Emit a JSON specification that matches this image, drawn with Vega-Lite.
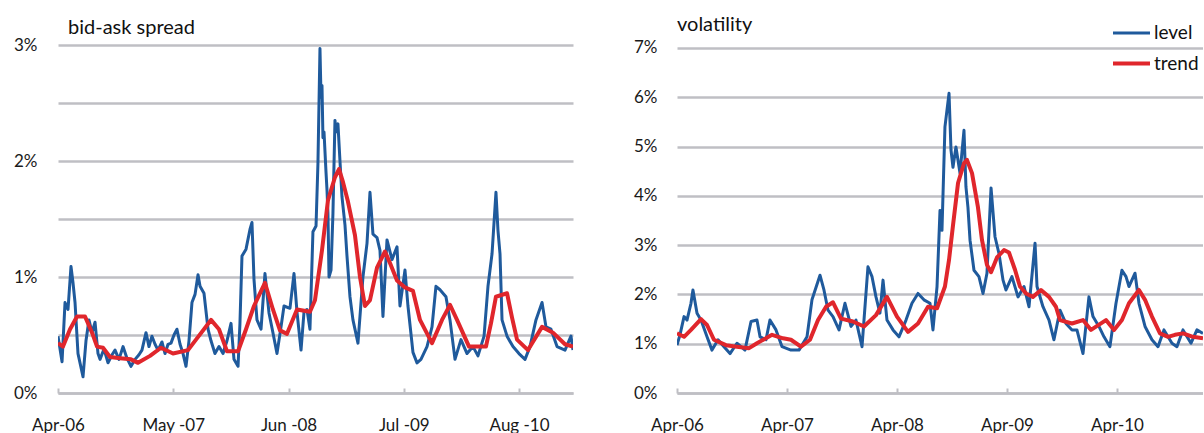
{
  "$schema": "https://vega.github.io/schema/vega-lite/v6.json",
  "background": "white",
  "padding": {"left": 13, "top": 13, "right": 0, "bottom": 0},
  "config": {
    "font": "Lato",
    "view": {"stroke": null},
    "concat": {"spacing": 60},
    "axis": {"labelFont": "Lato", "labelColor": "#1a1a1a", "title": null},
    "title": {"font": "Lato", "fontWeight": "normal", "color": "#111111", "fontSize": 20, "anchor": "start", "frame": "group"}
  },
  "datasets": {
    "spread": [
      {"year": 2006.250, "series": "level", "value": 0.49},
      {"year": 2006.288, "series": "level", "value": 0.27},
      {"year": 2006.316, "series": "level", "value": 0.78},
      {"year": 2006.344, "series": "level", "value": 0.72},
      {"year": 2006.372, "series": "level", "value": 1.09},
      {"year": 2006.391, "series": "level", "value": 0.95},
      {"year": 2006.410, "series": "level", "value": 0.78},
      {"year": 2006.438, "series": "level", "value": 0.34},
      {"year": 2006.485, "series": "level", "value": 0.14},
      {"year": 2006.513, "series": "level", "value": 0.45},
      {"year": 2006.541, "series": "level", "value": 0.63},
      {"year": 2006.570, "series": "level", "value": 0.52},
      {"year": 2006.598, "series": "level", "value": 0.61},
      {"year": 2006.626, "series": "level", "value": 0.34},
      {"year": 2006.645, "series": "level", "value": 0.29},
      {"year": 2006.682, "series": "level", "value": 0.38},
      {"year": 2006.720, "series": "level", "value": 0.26},
      {"year": 2006.758, "series": "level", "value": 0.33},
      {"year": 2006.786, "series": "level", "value": 0.37},
      {"year": 2006.823, "series": "level", "value": 0.29},
      {"year": 2006.861, "series": "level", "value": 0.40},
      {"year": 2006.898, "series": "level", "value": 0.30},
      {"year": 2006.936, "series": "level", "value": 0.23},
      {"year": 2006.974, "series": "level", "value": 0.29},
      {"year": 2007.011, "series": "level", "value": 0.33},
      {"year": 2007.039, "series": "level", "value": 0.37},
      {"year": 2007.077, "series": "level", "value": 0.52},
      {"year": 2007.105, "series": "level", "value": 0.40},
      {"year": 2007.133, "series": "level", "value": 0.49},
      {"year": 2007.162, "series": "level", "value": 0.42},
      {"year": 2007.190, "series": "level", "value": 0.37},
      {"year": 2007.227, "series": "level", "value": 0.44},
      {"year": 2007.256, "series": "level", "value": 0.34},
      {"year": 2007.284, "series": "level", "value": 0.42},
      {"year": 2007.312, "series": "level", "value": 0.43},
      {"year": 2007.340, "series": "level", "value": 0.50},
      {"year": 2007.368, "series": "level", "value": 0.55},
      {"year": 2007.397, "series": "level", "value": 0.42},
      {"year": 2007.425, "series": "level", "value": 0.34},
      {"year": 2007.453, "series": "level", "value": 0.23},
      {"year": 2007.481, "series": "level", "value": 0.45},
      {"year": 2007.509, "series": "level", "value": 0.78},
      {"year": 2007.538, "series": "level", "value": 0.85},
      {"year": 2007.566, "series": "level", "value": 1.02},
      {"year": 2007.585, "series": "level", "value": 0.92},
      {"year": 2007.622, "series": "level", "value": 0.86},
      {"year": 2007.660, "series": "level", "value": 0.55},
      {"year": 2007.688, "series": "level", "value": 0.45},
      {"year": 2007.725, "series": "level", "value": 0.34},
      {"year": 2007.763, "series": "level", "value": 0.40},
      {"year": 2007.801, "series": "level", "value": 0.34},
      {"year": 2007.838, "series": "level", "value": 0.45},
      {"year": 2007.876, "series": "level", "value": 0.60},
      {"year": 2007.904, "series": "level", "value": 0.29},
      {"year": 2007.942, "series": "level", "value": 0.23},
      {"year": 2007.960, "series": "level", "value": 0.60},
      {"year": 2007.979, "series": "level", "value": 1.18},
      {"year": 2008.017, "series": "level", "value": 1.24},
      {"year": 2008.054, "series": "level", "value": 1.41},
      {"year": 2008.073, "series": "level", "value": 1.47},
      {"year": 2008.092, "series": "level", "value": 0.98},
      {"year": 2008.120, "series": "level", "value": 0.63},
      {"year": 2008.158, "series": "level", "value": 0.55},
      {"year": 2008.195, "series": "level", "value": 1.03},
      {"year": 2008.233, "series": "level", "value": 0.69},
      {"year": 2008.270, "series": "level", "value": 0.52},
      {"year": 2008.308, "series": "level", "value": 0.34},
      {"year": 2008.346, "series": "level", "value": 0.57},
      {"year": 2008.374, "series": "level", "value": 0.75},
      {"year": 2008.430, "series": "level", "value": 0.73},
      {"year": 2008.468, "series": "level", "value": 1.03},
      {"year": 2008.496, "series": "level", "value": 0.70},
      {"year": 2008.534, "series": "level", "value": 0.37},
      {"year": 2008.562, "series": "level", "value": 0.70},
      {"year": 2008.590, "series": "level", "value": 0.72},
      {"year": 2008.618, "series": "level", "value": 0.55},
      {"year": 2008.646, "series": "level", "value": 1.39},
      {"year": 2008.675, "series": "level", "value": 1.44},
      {"year": 2008.693, "series": "level", "value": 1.98},
      {"year": 2008.712, "series": "level", "value": 2.97},
      {"year": 2008.722, "series": "level", "value": 2.55},
      {"year": 2008.731, "series": "level", "value": 2.65},
      {"year": 2008.740, "series": "level", "value": 2.20},
      {"year": 2008.750, "series": "level", "value": 2.25},
      {"year": 2008.769, "series": "level", "value": 1.90},
      {"year": 2008.778, "series": "level", "value": 1.75},
      {"year": 2008.787, "series": "level", "value": 1.55},
      {"year": 2008.797, "series": "level", "value": 1.00},
      {"year": 2008.816, "series": "level", "value": 1.06},
      {"year": 2008.834, "series": "level", "value": 1.55},
      {"year": 2008.853, "series": "level", "value": 2.35},
      {"year": 2008.863, "series": "level", "value": 2.25},
      {"year": 2008.881, "series": "level", "value": 2.32},
      {"year": 2008.900, "series": "level", "value": 2.00},
      {"year": 2008.919, "series": "level", "value": 1.69},
      {"year": 2008.947, "series": "level", "value": 1.45},
      {"year": 2008.966, "series": "level", "value": 1.18},
      {"year": 2008.994, "series": "level", "value": 0.83},
      {"year": 2009.022, "series": "level", "value": 0.63},
      {"year": 2009.069, "series": "level", "value": 0.43},
      {"year": 2009.116, "series": "level", "value": 1.00},
      {"year": 2009.154, "series": "level", "value": 1.29},
      {"year": 2009.182, "series": "level", "value": 1.73},
      {"year": 2009.210, "series": "level", "value": 1.37},
      {"year": 2009.248, "series": "level", "value": 1.34},
      {"year": 2009.276, "series": "level", "value": 1.23},
      {"year": 2009.304, "series": "level", "value": 0.66},
      {"year": 2009.342, "series": "level", "value": 1.32},
      {"year": 2009.389, "series": "level", "value": 1.15},
      {"year": 2009.436, "series": "level", "value": 1.26},
      {"year": 2009.464, "series": "level", "value": 0.75},
      {"year": 2009.511, "series": "level", "value": 1.06},
      {"year": 2009.539, "series": "level", "value": 0.75},
      {"year": 2009.586, "series": "level", "value": 0.35},
      {"year": 2009.624, "series": "level", "value": 0.26},
      {"year": 2009.661, "series": "level", "value": 0.29},
      {"year": 2009.718, "series": "level", "value": 0.40},
      {"year": 2009.765, "series": "level", "value": 0.57},
      {"year": 2009.802, "series": "level", "value": 0.92},
      {"year": 2009.840, "series": "level", "value": 0.89},
      {"year": 2009.896, "series": "level", "value": 0.83},
      {"year": 2009.934, "series": "level", "value": 0.63},
      {"year": 2009.981, "series": "level", "value": 0.29},
      {"year": 2010.037, "series": "level", "value": 0.46},
      {"year": 2010.094, "series": "level", "value": 0.34},
      {"year": 2010.150, "series": "level", "value": 0.40},
      {"year": 2010.197, "series": "level", "value": 0.32},
      {"year": 2010.254, "series": "level", "value": 0.49},
      {"year": 2010.291, "series": "level", "value": 0.92},
      {"year": 2010.329, "series": "level", "value": 1.20},
      {"year": 2010.366, "series": "level", "value": 1.73},
      {"year": 2010.385, "series": "level", "value": 1.40},
      {"year": 2010.404, "series": "level", "value": 1.20},
      {"year": 2010.423, "series": "level", "value": 0.63},
      {"year": 2010.470, "series": "level", "value": 0.49},
      {"year": 2010.526, "series": "level", "value": 0.40},
      {"year": 2010.582, "series": "level", "value": 0.34},
      {"year": 2010.639, "series": "level", "value": 0.29},
      {"year": 2010.686, "series": "level", "value": 0.40},
      {"year": 2010.742, "series": "level", "value": 0.63},
      {"year": 2010.799, "series": "level", "value": 0.78},
      {"year": 2010.836, "series": "level", "value": 0.57},
      {"year": 2010.883, "series": "level", "value": 0.55},
      {"year": 2010.940, "series": "level", "value": 0.40},
      {"year": 2011.015, "series": "level", "value": 0.37},
      {"year": 2011.071, "series": "level", "value": 0.49},
      {"year": 2011.090, "series": "level", "value": 0.37},
      {"year": 2006.250, "series": "trend", "value": 0.43},
      {"year": 2006.297, "series": "trend", "value": 0.40},
      {"year": 2006.363, "series": "trend", "value": 0.55},
      {"year": 2006.429, "series": "trend", "value": 0.66},
      {"year": 2006.504, "series": "trend", "value": 0.66},
      {"year": 2006.570, "series": "trend", "value": 0.52},
      {"year": 2006.617, "series": "trend", "value": 0.40},
      {"year": 2006.673, "series": "trend", "value": 0.39},
      {"year": 2006.739, "series": "trend", "value": 0.31},
      {"year": 2006.833, "series": "trend", "value": 0.30},
      {"year": 2006.936, "series": "trend", "value": 0.29},
      {"year": 2007.002, "series": "trend", "value": 0.26},
      {"year": 2007.115, "series": "trend", "value": 0.32},
      {"year": 2007.218, "series": "trend", "value": 0.39},
      {"year": 2007.331, "series": "trend", "value": 0.34},
      {"year": 2007.472, "series": "trend", "value": 0.37},
      {"year": 2007.547, "series": "trend", "value": 0.46},
      {"year": 2007.688, "series": "trend", "value": 0.63},
      {"year": 2007.763, "series": "trend", "value": 0.55},
      {"year": 2007.838, "series": "trend", "value": 0.36},
      {"year": 2007.942, "series": "trend", "value": 0.36},
      {"year": 2008.017, "series": "trend", "value": 0.55},
      {"year": 2008.092, "series": "trend", "value": 0.75},
      {"year": 2008.195, "series": "trend", "value": 0.95},
      {"year": 2008.270, "series": "trend", "value": 0.72},
      {"year": 2008.336, "series": "trend", "value": 0.54},
      {"year": 2008.402, "series": "trend", "value": 0.51},
      {"year": 2008.496, "series": "trend", "value": 0.72},
      {"year": 2008.618, "series": "trend", "value": 0.70},
      {"year": 2008.665, "series": "trend", "value": 0.80},
      {"year": 2008.731, "series": "trend", "value": 1.23},
      {"year": 2008.787, "series": "trend", "value": 1.66},
      {"year": 2008.853, "series": "trend", "value": 1.86},
      {"year": 2008.891, "series": "trend", "value": 1.93},
      {"year": 2008.928, "series": "trend", "value": 1.82},
      {"year": 2008.975, "series": "trend", "value": 1.65},
      {"year": 2009.041, "series": "trend", "value": 1.36},
      {"year": 2009.088, "series": "trend", "value": 1.00},
      {"year": 2009.135, "series": "trend", "value": 0.75},
      {"year": 2009.182, "series": "trend", "value": 0.80},
      {"year": 2009.248, "series": "trend", "value": 1.08},
      {"year": 2009.323, "series": "trend", "value": 1.22},
      {"year": 2009.370, "series": "trend", "value": 1.12},
      {"year": 2009.436, "series": "trend", "value": 0.97},
      {"year": 2009.511, "series": "trend", "value": 0.91},
      {"year": 2009.586, "series": "trend", "value": 0.88},
      {"year": 2009.652, "series": "trend", "value": 0.63},
      {"year": 2009.765, "series": "trend", "value": 0.43},
      {"year": 2009.859, "series": "trend", "value": 0.63},
      {"year": 2009.934, "series": "trend", "value": 0.76},
      {"year": 2010.000, "series": "trend", "value": 0.63},
      {"year": 2010.113, "series": "trend", "value": 0.40},
      {"year": 2010.272, "series": "trend", "value": 0.40},
      {"year": 2010.319, "series": "trend", "value": 0.60},
      {"year": 2010.366, "series": "trend", "value": 0.83},
      {"year": 2010.470, "series": "trend", "value": 0.86},
      {"year": 2010.517, "series": "trend", "value": 0.65},
      {"year": 2010.564, "series": "trend", "value": 0.46},
      {"year": 2010.667, "series": "trend", "value": 0.37},
      {"year": 2010.799, "series": "trend", "value": 0.57},
      {"year": 2010.902, "series": "trend", "value": 0.52},
      {"year": 2011.015, "series": "trend", "value": 0.42},
      {"year": 2011.090, "series": "trend", "value": 0.40}
    ],
    "vol": [
      {"year": 2006.250, "series": "level", "value": 0.97},
      {"year": 2006.277, "series": "level", "value": 1.18},
      {"year": 2006.314, "series": "level", "value": 1.55},
      {"year": 2006.341, "series": "level", "value": 1.48},
      {"year": 2006.377, "series": "level", "value": 1.82},
      {"year": 2006.395, "series": "level", "value": 2.09},
      {"year": 2006.432, "series": "level", "value": 1.62},
      {"year": 2006.468, "series": "level", "value": 1.48},
      {"year": 2006.523, "series": "level", "value": 1.14},
      {"year": 2006.568, "series": "level", "value": 0.87},
      {"year": 2006.623, "series": "level", "value": 1.08},
      {"year": 2006.677, "series": "level", "value": 0.94},
      {"year": 2006.732, "series": "level", "value": 0.80},
      {"year": 2006.795, "series": "level", "value": 1.01},
      {"year": 2006.868, "series": "level", "value": 0.87},
      {"year": 2006.923, "series": "level", "value": 1.45},
      {"year": 2006.977, "series": "level", "value": 1.48},
      {"year": 2007.005, "series": "level", "value": 1.14},
      {"year": 2007.059, "series": "level", "value": 1.08},
      {"year": 2007.095, "series": "level", "value": 1.48},
      {"year": 2007.150, "series": "level", "value": 1.28},
      {"year": 2007.205, "series": "level", "value": 0.94},
      {"year": 2007.286, "series": "level", "value": 0.87},
      {"year": 2007.359, "series": "level", "value": 0.87},
      {"year": 2007.432, "series": "level", "value": 1.14},
      {"year": 2007.477, "series": "level", "value": 1.89},
      {"year": 2007.550, "series": "level", "value": 2.39},
      {"year": 2007.586, "series": "level", "value": 2.09},
      {"year": 2007.623, "series": "level", "value": 1.68},
      {"year": 2007.668, "series": "level", "value": 1.55},
      {"year": 2007.723, "series": "level", "value": 1.28},
      {"year": 2007.777, "series": "level", "value": 1.82},
      {"year": 2007.832, "series": "level", "value": 1.35},
      {"year": 2007.877, "series": "level", "value": 1.48},
      {"year": 2007.932, "series": "level", "value": 0.94},
      {"year": 2007.986, "series": "level", "value": 2.56},
      {"year": 2008.023, "series": "level", "value": 2.36},
      {"year": 2008.059, "series": "level", "value": 1.95},
      {"year": 2008.095, "series": "level", "value": 1.62},
      {"year": 2008.123, "series": "level", "value": 2.29},
      {"year": 2008.159, "series": "level", "value": 1.48},
      {"year": 2008.214, "series": "level", "value": 1.28},
      {"year": 2008.268, "series": "level", "value": 1.14},
      {"year": 2008.332, "series": "level", "value": 1.48},
      {"year": 2008.386, "series": "level", "value": 1.82},
      {"year": 2008.441, "series": "level", "value": 2.02},
      {"year": 2008.495, "series": "level", "value": 1.89},
      {"year": 2008.550, "series": "level", "value": 1.82},
      {"year": 2008.577, "series": "level", "value": 1.28},
      {"year": 2008.614, "series": "level", "value": 2.16},
      {"year": 2008.641, "series": "level", "value": 3.70},
      {"year": 2008.659, "series": "level", "value": 3.30},
      {"year": 2008.686, "series": "level", "value": 5.40},
      {"year": 2008.723, "series": "level", "value": 6.08},
      {"year": 2008.741, "series": "level", "value": 4.93},
      {"year": 2008.759, "series": "level", "value": 4.58},
      {"year": 2008.786, "series": "level", "value": 4.99},
      {"year": 2008.823, "series": "level", "value": 4.46},
      {"year": 2008.859, "series": "level", "value": 5.33},
      {"year": 2008.877, "series": "level", "value": 4.18},
      {"year": 2008.895, "series": "level", "value": 3.77},
      {"year": 2008.914, "series": "level", "value": 3.10},
      {"year": 2008.950, "series": "level", "value": 2.49},
      {"year": 2008.995, "series": "level", "value": 2.36},
      {"year": 2009.032, "series": "level", "value": 2.02},
      {"year": 2009.068, "series": "level", "value": 2.43},
      {"year": 2009.105, "series": "level", "value": 4.16},
      {"year": 2009.141, "series": "level", "value": 3.17},
      {"year": 2009.177, "series": "level", "value": 2.83},
      {"year": 2009.214, "series": "level", "value": 2.29},
      {"year": 2009.241, "series": "level", "value": 2.09},
      {"year": 2009.295, "series": "level", "value": 2.36},
      {"year": 2009.350, "series": "level", "value": 1.95},
      {"year": 2009.405, "series": "level", "value": 2.16},
      {"year": 2009.450, "series": "level", "value": 1.75},
      {"year": 2009.505, "series": "level", "value": 3.04},
      {"year": 2009.523, "series": "level", "value": 2.16},
      {"year": 2009.577, "series": "level", "value": 1.75},
      {"year": 2009.632, "series": "level", "value": 1.48},
      {"year": 2009.677, "series": "level", "value": 1.08},
      {"year": 2009.732, "series": "level", "value": 1.68},
      {"year": 2009.786, "series": "level", "value": 1.41},
      {"year": 2009.841, "series": "level", "value": 1.28},
      {"year": 2009.886, "series": "level", "value": 1.28},
      {"year": 2009.941, "series": "level", "value": 0.80},
      {"year": 2009.995, "series": "level", "value": 1.95},
      {"year": 2010.032, "series": "level", "value": 1.55},
      {"year": 2010.086, "series": "level", "value": 1.35},
      {"year": 2010.132, "series": "level", "value": 1.14},
      {"year": 2010.186, "series": "level", "value": 0.94},
      {"year": 2010.241, "series": "level", "value": 1.82},
      {"year": 2010.295, "series": "level", "value": 2.49},
      {"year": 2010.332, "series": "level", "value": 2.36},
      {"year": 2010.359, "series": "level", "value": 2.16},
      {"year": 2010.414, "series": "level", "value": 2.43},
      {"year": 2010.450, "series": "level", "value": 1.82},
      {"year": 2010.505, "series": "level", "value": 1.35},
      {"year": 2010.568, "series": "level", "value": 1.08},
      {"year": 2010.623, "series": "level", "value": 0.94},
      {"year": 2010.677, "series": "level", "value": 1.28},
      {"year": 2010.750, "series": "level", "value": 1.01},
      {"year": 2010.795, "series": "level", "value": 0.94},
      {"year": 2010.850, "series": "level", "value": 1.28},
      {"year": 2010.923, "series": "level", "value": 1.01},
      {"year": 2010.977, "series": "level", "value": 1.28},
      {"year": 2011.032, "series": "level", "value": 1.21},
      {"year": 2006.250, "series": "trend", "value": 1.21},
      {"year": 2006.314, "series": "trend", "value": 1.14},
      {"year": 2006.377, "series": "trend", "value": 1.28},
      {"year": 2006.468, "series": "trend", "value": 1.50},
      {"year": 2006.523, "series": "trend", "value": 1.38},
      {"year": 2006.586, "series": "trend", "value": 1.08},
      {"year": 2006.695, "series": "trend", "value": 0.97},
      {"year": 2006.795, "series": "trend", "value": 0.94},
      {"year": 2006.905, "series": "trend", "value": 0.91},
      {"year": 2006.977, "series": "trend", "value": 1.01},
      {"year": 2007.114, "series": "trend", "value": 1.18},
      {"year": 2007.214, "series": "trend", "value": 1.11},
      {"year": 2007.286, "series": "trend", "value": 1.08},
      {"year": 2007.377, "series": "trend", "value": 0.94},
      {"year": 2007.459, "series": "trend", "value": 1.08},
      {"year": 2007.532, "series": "trend", "value": 1.48},
      {"year": 2007.605, "series": "trend", "value": 1.75},
      {"year": 2007.668, "series": "trend", "value": 1.84},
      {"year": 2007.741, "series": "trend", "value": 1.51},
      {"year": 2007.850, "series": "trend", "value": 1.45},
      {"year": 2007.950, "series": "trend", "value": 1.35},
      {"year": 2008.059, "series": "trend", "value": 1.58},
      {"year": 2008.159, "series": "trend", "value": 1.95},
      {"year": 2008.250, "series": "trend", "value": 1.55},
      {"year": 2008.350, "series": "trend", "value": 1.24},
      {"year": 2008.441, "series": "trend", "value": 1.41},
      {"year": 2008.532, "series": "trend", "value": 1.75},
      {"year": 2008.614, "series": "trend", "value": 1.72},
      {"year": 2008.686, "series": "trend", "value": 2.16},
      {"year": 2008.723, "series": "trend", "value": 2.70},
      {"year": 2008.759, "series": "trend", "value": 3.40},
      {"year": 2008.805, "series": "trend", "value": 4.26},
      {"year": 2008.859, "series": "trend", "value": 4.66},
      {"year": 2008.886, "series": "trend", "value": 4.73},
      {"year": 2008.932, "series": "trend", "value": 4.46},
      {"year": 2008.986, "series": "trend", "value": 3.77},
      {"year": 2009.023, "series": "trend", "value": 3.10},
      {"year": 2009.068, "series": "trend", "value": 2.60},
      {"year": 2009.105, "series": "trend", "value": 2.45},
      {"year": 2009.159, "series": "trend", "value": 2.75},
      {"year": 2009.223, "series": "trend", "value": 2.90},
      {"year": 2009.268, "series": "trend", "value": 2.85},
      {"year": 2009.323, "series": "trend", "value": 2.50},
      {"year": 2009.368, "series": "trend", "value": 2.16},
      {"year": 2009.423, "series": "trend", "value": 2.02},
      {"year": 2009.486, "series": "trend", "value": 1.95},
      {"year": 2009.559, "series": "trend", "value": 2.09},
      {"year": 2009.632, "series": "trend", "value": 1.95},
      {"year": 2009.695, "series": "trend", "value": 1.75},
      {"year": 2009.732, "series": "trend", "value": 1.48},
      {"year": 2009.841, "series": "trend", "value": 1.41},
      {"year": 2009.941, "series": "trend", "value": 1.48},
      {"year": 2010.014, "series": "trend", "value": 1.28},
      {"year": 2010.150, "series": "trend", "value": 1.48},
      {"year": 2010.223, "series": "trend", "value": 1.28},
      {"year": 2010.295, "series": "trend", "value": 1.48},
      {"year": 2010.359, "series": "trend", "value": 1.82},
      {"year": 2010.450, "series": "trend", "value": 2.09},
      {"year": 2010.505, "series": "trend", "value": 1.89},
      {"year": 2010.568, "series": "trend", "value": 1.55},
      {"year": 2010.641, "series": "trend", "value": 1.21},
      {"year": 2010.714, "series": "trend", "value": 1.14},
      {"year": 2010.777, "series": "trend", "value": 1.18},
      {"year": 2010.850, "series": "trend", "value": 1.21},
      {"year": 2010.941, "series": "trend", "value": 1.14},
      {"year": 2011.032, "series": "trend", "value": 1.11}
    ]
  },
  "hconcat": [
    {
      "width": 515,
      "height": 348,
      "title": {"text": "bid-ask spread", "dx": 10, "offset": -2},
      "data": {"name": "spread"},
      "mark": {"type": "line", "strokeJoin": "round", "clip": true},
      "encoding": {
        "x": {
          "field": "year", "type": "quantitative",
          "scale": {"domain": [2006.25, 2011.09], "nice": false, "zero": false},
          "axis": {
            "values": [2006.25, 2007.3333, 2008.4167, 2009.5, 2010.5833],
            "labelExpr": "datum.value < 2007 ? 'Apr-06' : datum.value < 2008 ? 'May -07' : datum.value < 2009 ? 'Jun -08' : datum.value < 2010 ? 'Jul -09' : 'Aug -10'",
            "grid": false, "domainColor": "#BFBFC4", "domainWidth": 2.5,
            "tickColor": "#BFBFC4", "tickWidth": 2, "tickSize": -5,
            "labelPadding": 29, "labelFontSize": 17, "labelFlush": false, "labelOverlap": false
          }
        },
        "y": {
          "field": "value", "type": "quantitative",
          "scale": {"domain": [0, 3], "nice": false},
          "axis": {
            "values": [0, 0.5, 1, 1.5, 2, 2.5, 3],
            "labelExpr": "datum.value % 1 === 0 ? datum.value + '%' : ''",
            "domain": false, "ticks": false, "gridColor": "#BFBFC4", "gridWidth": 2.5,
            "labelPadding": 21, "labelFontSize": 17
          }
        },
        "color": {
          "field": "series", "type": "nominal",
          "scale": {"domain": ["level", "trend"], "range": ["#1F5A9C", "#E0262C"]},
          "legend": null
        },
        "strokeWidth": {
          "field": "series", "type": "nominal",
          "scale": {"domain": ["level", "trend"], "range": [3, 4]},
          "legend": null
        }
      }
    },
    {
      "width": 526,
      "height": 348,
      "title": {"text": "volatility", "dx": 0, "offset": -22},
      "data": {"name": "vol"},
      "mark": {"type": "line", "strokeJoin": "round", "clip": true},
      "encoding": {
        "x": {
          "field": "year", "type": "quantitative",
          "scale": {"domain": [2006.25, 2011.032], "nice": false, "zero": false},
          "axis": {
            "values": [2006.25, 2007.25, 2008.25, 2009.25, 2010.25],
            "labelExpr": "datum.value < 2007 ? 'Apr-06' : datum.value < 2008 ? 'Apr-07' : datum.value < 2009 ? 'Apr-08' : datum.value < 2010 ? 'Apr-09' : 'Apr-10'",
            "grid": false, "domainColor": "#BFBFC4", "domainWidth": 2.5,
            "tickColor": "#BFBFC4", "tickWidth": 2, "tickSize": -5,
            "labelPadding": 29, "labelFontSize": 17, "labelFlush": false, "labelOverlap": false
          }
        },
        "y": {
          "field": "value", "type": "quantitative",
          "scale": {"domain": [0, 7.06], "nice": false},
          "axis": {
            "values": [0, 1, 2, 3, 4, 5, 6, 7],
            "labelExpr": "datum.value + '%'",
            "domain": false, "ticks": false, "gridColor": "#BFBFC4", "gridWidth": 2.5,
            "labelPadding": 20, "labelFontSize": 17
          }
        },
        "color": {
          "field": "series", "type": "nominal",
          "scale": {"domain": ["level", "trend"], "range": ["#1F5A9C", "#E0262C"]},
          "legend": {
            "orient": "none", "legendX": 434, "legendY": -32, "title": null,
            "symbolType": "stroke", "symbolSize": 1369, "symbolStrokeWidth": 4,
            "labelFontSize": 19, "labelColor": "#111111", "labelOffset": 2, "rowPadding": -1
          }
        },
        "strokeWidth": {
          "field": "series", "type": "nominal",
          "scale": {"domain": ["level", "trend"], "range": [3, 4]},
          "legend": null
        }
      }
    }
  ],
  "resolve": {"legend": {"color": "independent", "strokeWidth": "independent"}, "scale": {"color": "independent", "strokeWidth": "independent"}}
}
